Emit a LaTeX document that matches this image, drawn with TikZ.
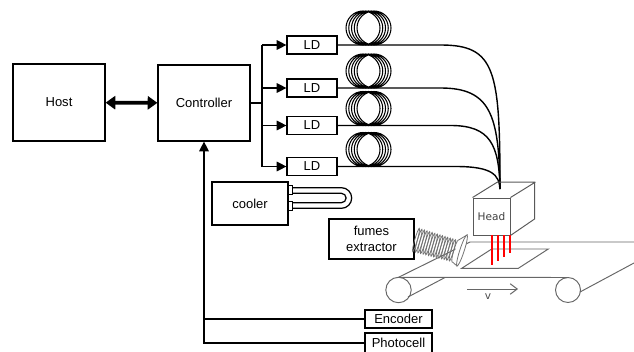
\documentclass[tikz,border=0pt]{standalone}
\usepackage{fontspec}
\setmainfont{Liberation Sans}
\newfontfamily\headfont{DejaVu Sans}
\usetikzlibrary{arrows.meta}

\tikzset{
  box/.style = {rectangle,
      draw = black,
      line width = 0.7pt,
      fill = white,
      inner sep = 0pt,
      align = center,
      font = \fontsize{7.4}{9.2}\selectfont},
  ldbox/.style = {box,
      minimum width = 1cm,
      minimum height = 0.36cm},
  link/.style = {line width = 0.7pt},
  feed/.style = {link, -{Triangle[length = 5.5pt, width = 5.5pt]}},
  fibre/.style = {line width = 0.8pt},
  coil/.style = {line width = 0.6pt},
  bellow/.style = {draw = black!55, line width = 0.45pt},
  belt/.style = {draw = black!60, line width = 0.55pt},
  cube/.style = {draw = black!65, line width = 0.55pt},
  laser/.style = {draw = red, line width = 1.1pt},
}

\begin{document}
\begin{tikzpicture}[x = 0.02cm, y = -0.02cm]
\useasboundingbox (0,0) rectangle (634,351);
\clip (0,0) rectangle (634,351);

% host and controller
\node[box, minimum width = 1.84cm, minimum height = 1.54cm] (host) at (59,102.5) {Host};
\node[box, minimum width = 1.84cm, minimum height = 1.52cm] (ctrl) at (204,103) {Controller};
\draw[line width = 2.2pt,
    {Triangle[length = 5.5pt, width = 7.5pt]}-{Triangle[length = 5.5pt, width = 7.5pt]}]
    (host) -- (ctrl);

% laser diodes
\node[ldbox] (ld1) at (312,45) {LD};
\node[ldbox] (ld2) at (312,88) {LD};
\node[ldbox] (ld3) at (312,125.5) {LD};
\node[ldbox] (ld4) at (312,166.5) {LD};

\coordinate (bus) at (262,103);
\draw[link] (ctrl.east) -- (bus);
\draw[link] (ld1.west -| bus) -- (ld4.west -| bus);
\draw[feed] (ld1.west -| bus) -- (ld1.west);
\draw[feed] (ld2.west -| bus) -- (ld2.west);
\draw[feed] (ld3.west -| bus) -- (ld3.west);
\draw[feed] (ld4.west -| bus) -- (ld4.west);

% fibre coils
\draw[coil] (363,28) circle [radius = 17] (365.75,28) circle [radius = 17]
    (368.5,28) circle [radius = 17] (371.25,28) circle [radius = 17] (374,28) circle [radius = 17];
\draw[coil] (363,71) circle [radius = 17] (365.75,71) circle [radius = 17]
    (368.5,71) circle [radius = 17] (371.25,71) circle [radius = 17] (374,71) circle [radius = 17];
\draw[coil] (363,108.5) circle [radius = 17] (365.75,108.5) circle [radius = 17]
    (368.5,108.5) circle [radius = 17] (371.25,108.5) circle [radius = 17] (374,108.5) circle [radius = 17];
\draw[coil] (363,149.5) circle [radius = 17] (365.75,149.5) circle [radius = 17]
    (368.5,149.5) circle [radius = 17] (371.25,149.5) circle [radius = 17] (374,149.5) circle [radius = 17];

% fibres down to the head
\coordinate (fend) at (500,189);
\draw[fibre] (ld1.east) -- ++(103,0) .. controls +(55,0) and +(0,-119) .. (fend);
\draw[fibre] (ld2.east) -- ++(103,0) .. controls +(50,0) and +(-1,-74) .. (fend);
\draw[fibre] (ld3.east) -- ++(113,0) .. controls +(40,0) and +(-1,-44) .. (fend);
\draw[fibre] (ld4.east) -- ++(118,0) .. controls +(37,0) and +(-1,-14) .. (fend);

% cooler with its u-tube
\node[box, minimum width = 1.52cm, minimum height = 0.86cm] (cooler) at (250,203.5) {cooler};
\draw[line width = 0.5pt] (288,185) rectangle (292,194) (288,201) rectangle (292,210);
\draw[link] (292,187.7) -- (341.4,187.7) arc [start angle = -90, end angle = 90, radius = 10.3] -- (292,208.3);
\draw[link] (292,193.3) -- (341.4,193.3) arc [start angle = -90, end angle = 90, radius = 4.7] -- (292,202.7);

% conveyor
\draw[belt] (398.5,290) circle [radius = 12.7];
\draw[belt] (568,290) circle [radius = 12.5];
\draw[belt] (398.5,277.3) -- (568,277.5);
\draw[belt] (398.5,277.3) -- (470,242) -- (634,242);
\draw[belt] (408,297) -- (445,277.5);
\draw[belt] (580,292) -- (634,263);
\draw[belt] (461.7,268.3) -- (518.3,268.3) -- (548.3,249) -- (491.7,249) -- cycle;
\draw[belt, -{Straight Barb[length = 4pt, width = 6pt]}] (467,289) -- (518,289);
\node[font = \headfont\fontsize{6}{7}\selectfont, text = black!70] (speed) at (488,297) {v};

% fumes extractor, bellows and nozzle
\node[box, minimum width = 1.7cm, minimum height = 0.8cm] (fumes) at (371.5,239) {fumes\\extractor};
\foreach \i in {0,...,15}
  \draw[bellow, shift = {(416+2.6*\i,240+0.733*\i)}, rotate = -16]
      (0,0) ellipse [x radius = 1.3, y radius = 12-0.07*\i];
\draw[bellow, fill = white] (458,240.4) -- (467,235) -- (457,266) -- (452,261.6);
\draw[bellow, fill = white, shift = {(462,250.5)}, rotate = -18]
    (0,0) ellipse [x radius = 2.2, y radius = 16.3];

% head
\node[box, draw = black!65, line width = 0.55pt,
    minimum width = 0.74cm,
    minimum height = 0.74cm,
    text = black!75,
    font = \headfont\fontsize{6}{7}\selectfont] (head) at (491.5,216.5) {Head};
\draw[cube] (head.north west) -- ++(25,-15.5) -- ++(37,0) -- ++(0,37) -- (head.south east)
    (head.north east) -- ++(25,-15.5);
\draw[laser] (491.7,235) -- ++(0,30);
\draw[laser] (497.7,235) -- ++(0,26);
\draw[laser] (504,235) -- ++(0,22);
\draw[laser] (510,235) -- ++(0,18);

% sensors back to the controller
\node[box, minimum width = 1.34cm, minimum height = 0.36cm] (enc) at (398.5,319) {Encoder};
\node[box, minimum width = 1.34cm, minimum height = 0.4cm] (photo) at (398.5,343) {Photocell};
\draw[feed] (photo.west) -| (ctrl.south);
\draw[link] (enc.west) -- (enc.west -| ctrl.south);

\end{tikzpicture}
\end{document}
